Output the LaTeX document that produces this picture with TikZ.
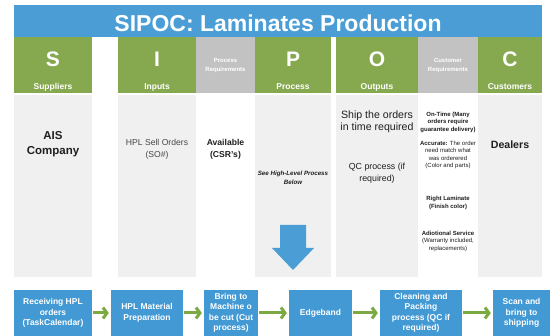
\documentclass[tikz,border=0pt]{standalone}
\usepackage{fontspec}
\setmainfont{Liberation Sans}
\usepackage{xcolor}
\usetikzlibrary{arrows.meta}

\definecolor{titleblue}{RGB}{74,157,213}
\definecolor{headgreen}{RGB}{134,169,80}
\definecolor{reqgray}{RGB}{194,194,194}
\definecolor{bodygray}{RGB}{240,240,240}
\definecolor{flowblue}{RGB}{66,153,212}
\definecolor{arrowgreen}{RGB}{124,170,66}

\begin{document}
\begin{tikzpicture}[x=1pt, y=-1pt]
        % ================= 样式定义 =================
        \tikzset{
            % 顶部标题栏
            titlebar/.style={fill=titleblue, minimum width=528pt, minimum height=32pt, inner sep=0pt},
            % 表头:绿色为 SIPOC 五列,灰色为需求列
            headcell/.style={fill=headgreen, minimum height=56pt, inner sep=0pt},
            reqcell/.style={fill=reqgray, minimum height=56pt, inner sep=0pt},
            % 内容列 (浅灰底)
            bodycell/.style={fill=bodygray, minimum height=182pt, inner sep=0pt},
            letter/.style={text=white, font=\fontsize{21}{21}\selectfont\bfseries, inner sep=0pt, anchor=base},
            sublabel/.style={text=white, font=\fontsize{8.5}{8.5}\selectfont\bfseries, inner sep=0pt, anchor=base},
            reqlabel/.style={text=white, font=\fontsize{6}{9}\selectfont\bfseries, align=center, inner sep=0pt},
            bodytext/.style={align=center, inner sep=0pt, text=black!88},
            % 底部流程框与绿色箭头
            flowbox/.style={fill=flowblue, minimum height=46pt, inner sep=0pt, text=white, align=center,
                font=\fontsize{8.5}{10.5}\selectfont\bfseries},
            flowarrow/.style={draw=arrowgreen, line width=3pt, -{Straight Barb[length=4pt, width=11pt]},
                shorten <=1pt, shorten >=2pt}
        }

        \useasboundingbox (0,0) rectangle (557,336);

        % ================= 标题 =================
        \node[titlebar] (titlebar) at (278,21) {};
        \node[text=white, font=\fontsize{23}{23}\selectfont\bfseries, inner sep=0pt, anchor=base]
            (title) at (278,32) {SIPOC: Laminates Production};

        % ================= S I P O C 五列 =================
        \foreach \cx/\w/\ltr/\lbl/\name in {53/78/S/Suppliers/s, 157/78/I/Inputs/i,
                293/76/P/Process/p, 377/82/O/Outputs/o, 510/64/C/Customers/c} {
            \node[headcell, minimum width=\w pt] (head-\name) at (\cx,65) {};
            \node[letter] (letter-\name) at (\cx,67) {\ltr};
            \node[sublabel] (label-\name) at (\cx,90) {\lbl};
            \node[bodycell, minimum width=\w pt] (body-\name) at (\cx,186) {};
        }

        % 需求列 (灰色表头,白底内容)
        \node[reqcell, minimum width=59pt] (head-pr) at (225.5,65) {};
        \node[reqlabel] (label-pr) at (225.5,66) {Process\\Requirements};
        \node[reqcell, minimum width=60pt] (head-cr) at (448,65) {};
        \node[reqlabel] (label-cr) at (448,66) {Customer\\Requirements};

        % ================= 各列内容 =================
        \node[bodytext, font=\fontsize{11.5}{15}\selectfont\bfseries] (supplier) at (53,144) {AIS\\Company};
        \node[bodytext, text=black!72, font=\fontsize{8.6}{12}\selectfont] (input) at (157,149) {HPL Sell Orders\\(SO\#)};
        \node[bodytext, font=\fontsize{8.6}{12}\selectfont\bfseries] (procreq) at (225.5,149) {Available\\(CSR's)};
        \node[bodytext, font=\fontsize{6.2}{9}\selectfont\bfseries\itshape] (seebelow) at (293,178) {See High-Level Process\\Below};
        \node[bodytext, font=\fontsize{10.6}{12.5}\selectfont] (ship) at (377,122) {Ship the orders\\in time required};
        \node[bodytext, font=\fontsize{8.8}{12}\selectfont] (qc) at (377,173) {QC process (if\\required)};
        \node[bodytext, font=\fontsize{10.6}{12}\selectfont\bfseries] (dealers) at (510,145) {Dealers};

        % 客户需求 (小字)
        \node[bodytext, font=\fontsize{6}{7.5}\selectfont\bfseries] (ontime) at (448,122)
            {On-Time (Many\\orders require\\guarantee delivery)};
        \node[bodytext, font=\fontsize{6}{7.5}\selectfont] (accurate) at (448,155)
            {\textbf{Accurate:} The order\\need match what\\was orderered\\(Color and parts)};
        \node[bodytext, font=\fontsize{6}{8.5}\selectfont\bfseries] (laminate) at (448,203)
            {Right Laminate\\(Finish color)};
        \node[bodytext, font=\fontsize{6}{7.5}\selectfont] (service) at (448,241)
            {\textbf{Adiotional Service}\\(Warranty included,\\replacements)};

        % 蓝色向下箭头 (指向下方流程)
        \fill[titleblue] (280,225) -- (306,225) -- (306,248) -- (314,248) -- (293,270)
            -- (272,248) -- (280,248) -- cycle;

        % ================= 底部高层流程 =================
        \foreach \cx/\w/\txt/\name in {53/78/{Receiving HPL\\orders\\(TaskCalendar)}/b1,
                147/72/{HPL Material\\Preparation}/b2,
                231/54/{Bring to\\Machine o\\be cut (Cut\\process)}/b3,
                320.5/63/{Edgeband}/b4,
                421/82/{Cleaning and\\Packing\\process (QC if\\required)}/b5,
                521.5/57/{Scan and\\bring to\\shipping}/b6} {
            \node[flowbox, minimum width=\w pt] (\name) at (\cx,313) {\txt};
        }

        \foreach \from/\to in {b1/b2, b2/b3, b3/b4, b4/b5, b5/b6} {
            \draw[flowarrow] (\from) -- (\to);
        }

\end{tikzpicture}
\end{document}
